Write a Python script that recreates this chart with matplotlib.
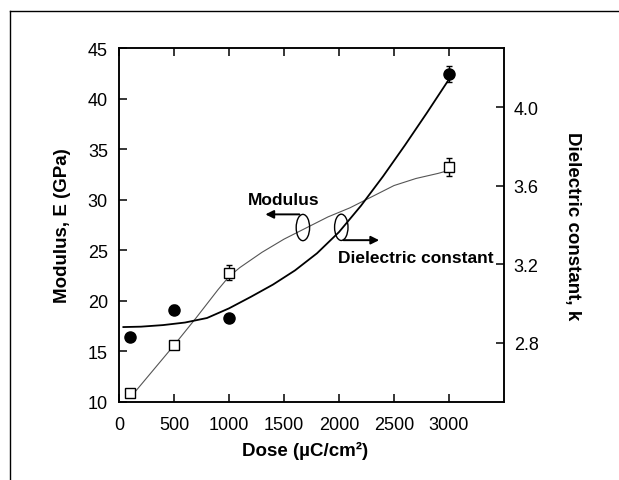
import matplotlib
matplotlib.use("Agg")
import matplotlib.pyplot as plt
from matplotlib.patches import Ellipse
from matplotlib.lines import Line2D

plt.rcParams["font.family"] = ["Liberation Sans", "DejaVu Sans"]

# medidas (pontos)
dose_pts = [100, 500, 1000, 3000]
modulo = [10.9, 15.6, 22.8, 33.2]           # GPa
modulo_err = [0.3, 0.3, 0.7, 0.9]
k_diel = [2.829, 2.970, 2.926, 4.168]
k_err = [0.015, 0.025, 0.02, 0.043]

# curvas de ajuste
dose_fit_mod = [100, 300, 500, 700, 900, 1000, 1100, 1300, 1500, 1700, 1900,
                2100, 2300, 2500, 2700, 2900, 3000]
mod_fit = [10.4, 13.0, 15.6, 18.3, 21.1, 22.4, 23.3, 24.8, 26.1, 27.2, 28.3,
           29.2, 30.3, 31.4, 32.1, 32.6, 32.9]

dose_fit_k = [40, 200, 400, 600, 800, 1000, 1200, 1400, 1600, 1800, 2000,
              2200, 2400, 2600, 2800, 3000]
k_fit = [2.881, 2.883, 2.891, 2.904, 2.927, 2.976, 3.035, 3.097, 3.169, 3.256,
         3.364, 3.498, 3.647, 3.806, 3.971, 4.141]

xticks = [0, 500, 1000, 1500, 2000, 2500, 3000]
yticks_esq = [10, 15, 20, 25, 30, 35, 40, 45]
yticks_dir = [2.8, 3.2, 3.6, 4.0]

fig = plt.figure(figsize=(6.19, 4.81), dpi=100)
ax = fig.add_axes([0.1922, 0.1622, 0.6220, 0.7359])
ax2 = ax.twinx()

# módulo (eixo esquerdo)
ax.plot(dose_fit_mod, mod_fit, color="#555555", lw=0.8, zorder=2)
ax.errorbar(dose_pts, modulo, yerr=modulo_err, fmt="s", ms=7, mfc="white",
            mec="black", mew=1.0, ecolor="black", elinewidth=1.0, capsize=2.5,
            zorder=3)

# constante dielétrica (eixo direito)
ax2.plot(dose_fit_k, k_fit, color="black", lw=1.3, zorder=2)
ax2.errorbar(dose_pts, k_diel, yerr=k_err, fmt="o", ms=8, mfc="black",
             mec="black", ecolor="black", elinewidth=1.0, capsize=2.5, zorder=3)

ax.set_xlim(0, 3500)
ax.set_ylim(10, 45)
ax2.set_ylim(2.5, 4.3)

ax.set_xticks(xticks)
ax.set_yticks(yticks_esq)
ax2.set_yticks(yticks_dir)
ax2.set_yticklabels([f"{v:.1f}" for v in yticks_dir])

for a in (ax, ax2):
    for s in a.spines.values():
        s.set_linewidth(1.1)

ax.tick_params(axis="x", direction="in", top=True, length=6, width=1.1,
               labelsize=13, pad=10)
ax.tick_params(axis="y", direction="in", right=False, length=6, width=1.1,
               labelsize=13, pad=8)
ax2.tick_params(axis="y", direction="in", left=False, length=6, width=1.1,
                labelsize=13, pad=7)

ax.set_xlabel("Dose (\u00b5C/cm\u00b2)", fontsize=13.5, fontweight="bold")
ax.set_ylabel("Modulus, E (GPa)", fontsize=13.5, fontweight="bold")
ax2.set_ylabel("Dielectric constant, k", fontsize=13.5, fontweight="bold",
               rotation=270, labelpad=18)
ax.xaxis.set_label_coords(0.483, -0.11)
ax.yaxis.set_label_coords(-0.125, 0.5)
ax2.yaxis.set_label_coords(1.20, 0.5)

# anotações
ax.add_patch(Ellipse((1672, 27.25), 122, 2.6, fill=False, lw=1.0,
                     edgecolor="black", zorder=4))
ax.add_patch(Ellipse((2021, 27.27), 122, 2.6, fill=False, lw=1.0,
                     edgecolor="black", zorder=4))
ax.annotate("", xy=(1331, 28.55), xytext=(1640, 28.55),
            arrowprops=dict(arrowstyle="-|>", lw=1.4, color="black",
                            mutation_scale=12, shrinkA=0, shrinkB=0))
ax.annotate("", xy=(2365, 26.0), xytext=(2040, 26.0),
            arrowprops=dict(arrowstyle="-|>", lw=1.4, color="black",
                            mutation_scale=12, shrinkA=0, shrinkB=0))
ax.text(1170, 29.62, "Modulus", fontsize=12.5, fontweight="bold",
        ha="left", va="baseline")
ax.text(1990, 23.87, "Dielectric constant", fontsize=12.5, fontweight="bold",
        ha="left", va="baseline")

# moldura (topo e esquerda)
fig.add_artist(Line2D([0.0162, 1.0], [0.975, 0.975], color="black", lw=1.0))
fig.add_artist(Line2D([0.0162, 0.0162], [0.0, 0.975], color="black", lw=1.0))

fig.savefig("out.png", dpi=100)
